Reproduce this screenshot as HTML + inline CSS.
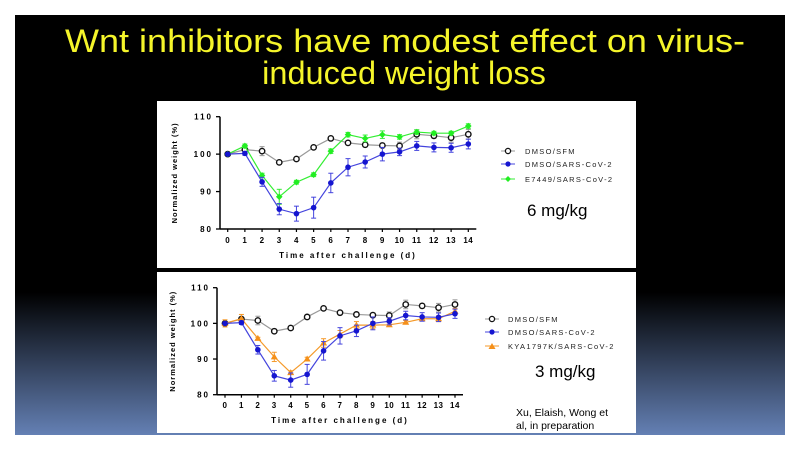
<!DOCTYPE html>
<html><head><meta charset="utf-8"><style>
html,body{margin:0;padding:0;background:#fff;}
svg{display:block;font-family:"Liberation Sans",Arial,sans-serif;}
</style></head><body>
<svg width="800" height="450" viewBox="0 0 800 450">
<defs><linearGradient id="bg" x1="0" y1="0" x2="0" y2="1">
<stop offset="0" stop-color="#000"/><stop offset="0.66" stop-color="#000"/><stop offset="1" stop-color="#6480b4"/></linearGradient></defs>
<rect x="0" y="0" width="800" height="450" fill="#fff"/>
<rect x="15" y="15" width="770" height="420" fill="url(#bg)"/>
<text x="405" y="52" font-size="32.5" fill="#f5f52a" text-anchor="middle" textLength="680" lengthAdjust="spacingAndGlyphs">Wnt inhibitors have modest effect on virus-</text>
<text x="404" y="84" font-size="32.5" fill="#f5f52a" text-anchor="middle">induced weight loss</text>
<rect x="157" y="101" width="479" height="167" fill="#fff"/>
<rect x="157" y="272" width="479" height="161" fill="#fff"/>
<g id="top"></g><g id="bot"></g>
<g font-size="7.5" fill="#222" letter-spacing="1.3">
<line x1="501" y1="151" x2="515" y2="151" stroke="#999"/><circle cx="508" cy="151" r="2.6" fill="#fff" stroke="#111" stroke-width="1.3"/>
<text x="525" y="154">DMSO/SFM</text>
<line x1="501" y1="164" x2="515" y2="164" stroke="#4444dd"/><circle cx="508" cy="164" r="2.6" fill="#1515d0"/>
<text x="525" y="167">DMSO/SARS-CoV-2</text>
<line x1="501" y1="179" x2="515" y2="179" stroke="#33ee33"/><path d="M508 176 L511 179 L508 182 L505 179Z" fill="#22ee22"/>
<text x="525" y="182">E7449/SARS-CoV-2</text>
<line x1="485" y1="319" x2="499" y2="319" stroke="#999"/><circle cx="492" cy="319" r="2.6" fill="#fff" stroke="#111" stroke-width="1.3"/>
<text x="508" y="322">DMSO/SFM</text>
<line x1="485" y1="332" x2="499" y2="332" stroke="#4444dd"/><circle cx="492" cy="332" r="2.6" fill="#1515d0"/>
<text x="508" y="335">DMSO/SARS-CoV-2</text>
<line x1="485" y1="346" x2="499" y2="346" stroke="#f59a2a"/><path d="M492 343 L495.5 349 L488.5 349Z" fill="#f5901a"/>
<text x="508" y="349">KYA1797K/SARS-CoV-2</text>
</g>
<text x="527" y="216" font-size="17" fill="#000">6 mg/kg</text>
<text x="535" y="377" font-size="17" fill="#000">3 mg/kg</text>
<text x="516" y="416" font-size="10.5" fill="#000">Xu, Elaish, Wong et</text>
<text x="516" y="429" font-size="10.5" fill="#000">al, in preparation</text>
</svg>
<script>
const days=[0,1,2,3,4,5,6,7,8,9,10,11,12,13,14];
const yTicks=[80,90,100,110];
const sfm=[100,101.2,100.8,97.8,98.7,101.8,104.2,103,102.5,102.3,102.2,105.3,104.9,104.4,105.3];
const sfmErr=[0,0.5,1.2,0.4,0.4,0.4,0.4,0.4,0.5,0.6,1,1.2,0.6,1.2,1.3];
const blue=[100,100.2,92.6,85.3,84.1,85.7,92.3,96.5,97.9,100,100.6,102.2,101.8,101.7,102.7];
const blueErr=[0,0.5,1.2,1.5,2,2.8,2.6,2.3,1.6,1.8,1,1.2,1.2,1.2,1.3];
const green=[100,102.2,94.3,88.6,92.5,94.5,100.8,105.2,104.2,105.2,104.6,105.9,105.6,105.6,107.5];
const greenErr=[0,0.5,0.6,2,0.5,0.5,0.6,0.6,0.9,1,0.6,0.6,0.5,0.5,0.6];
const orange=[100,101.3,95.8,90.6,86.2,90,94.5,97,99.5,99.5,99.6,100.3,101.3,101.3,103.4];
const orangeErr=[1,1.2,0.3,1.3,0.5,0.5,1.2,1,1,1,0.5,0.5,0.5,0.8,0.8];
const NS='http://www.w3.org/2000/svg';
function mk(p,t,a){const e=document.createElementNS(NS,t);for(const k in a)e.setAttribute(k,a[k]);p.appendChild(e);return e;}
function chart(g,c,series,prefix){
  const X=d=>c.x0+(c.x1-c.x0)*d/14, Y=v=>c.yb+(c.yt-c.yb)*(v-80)/30;
  mk(g,'line',{x1:c.ax,y1:Y(110),x2:c.ax,y2:Y(80),stroke:'#000','stroke-width':1.5});
  mk(g,'line',{x1:c.ax,y1:Y(80),x2:X(14)+8,y2:Y(80),stroke:'#000','stroke-width':1.5});
  yTicks.forEach(v=>{mk(g,'line',{x1:c.ax-4,y1:Y(v),x2:c.ax,y2:Y(v),stroke:'#000','stroke-width':1.3});
    const t=mk(g,'text',{x:c.ax-7,y:Y(v)+3,'font-size':8,'font-weight':'bold','text-anchor':'end','letter-spacing':2});t.textContent=v;
    
    });
  days.forEach(d=>{mk(g,'line',{x1:X(d),y1:Y(80),x2:X(d),y2:Y(80)+3,stroke:'#000','stroke-width':1.2});
    const t=mk(g,'text',{x:X(d),y:c.ty,'font-size':8,'font-weight':'bold','text-anchor':'middle','letter-spacing':0.5});t.textContent=d;
    
    });
  const xt=mk(g,'text',{x:c.xtx,y:c.xty,'font-size':8,'font-weight':'bold','text-anchor':'middle','letter-spacing':2});xt.textContent='Time after challenge (d)';
  
  
  const cy=(Y(80)+Y(110))/2;
  const yt=mk(g,'text',{x:c.ytx,y:cy,'font-size':7.5,'font-weight':'bold','text-anchor':'middle','letter-spacing':1,transform:`rotate(-90 ${c.ytx} ${cy})`});yt.textContent='Normalized weight (%)';
  
  
  series.forEach(s=>{
    const sg=mk(g,'g',{});
    
    
    mk(sg,'polyline',{points:s.v.map((v,i)=>X(days[i])+','+Y(v)).join(' '),fill:'none',stroke:s.line,'stroke-width':1.2});
    s.v.forEach((v,i)=>{const x=X(days[i]),e=s.e[i];
      if(e>0){mk(sg,'line',{x1:x,y1:Y(v-e),x2:x,y2:Y(v+e),stroke:s.line,'stroke-width':1});
        mk(sg,'line',{x1:x-2.5,y1:Y(v-e),x2:x+2.5,y2:Y(v-e),stroke:s.line,'stroke-width':1});
        mk(sg,'line',{x1:x-2.5,y1:Y(v+e),x2:x+2.5,y2:Y(v+e),stroke:s.line,'stroke-width':1});}
      let m;
      if(s.shape==='o')m=mk(sg,'circle',{cx:x,cy:Y(v),r:2.7,fill:'#fff',stroke:'#111','stroke-width':1.4});
      else if(s.shape==='dot')m=mk(sg,'circle',{cx:x,cy:Y(v),r:2.8,fill:s.fill});
      else if(s.shape==='dia')m=mk(sg,'path',{d:`M${x} ${Y(v)-3.3}L${x+3.3} ${Y(v)}L${x} ${Y(v)+3.3}L${x-3.3} ${Y(v)}Z`,fill:s.fill});
      else m=mk(sg,'path',{d:`M${x} ${Y(v)-3.5}L${x+3.5} ${Y(v)+2.5}L${x-3.5} ${Y(v)+2.5}Z`,fill:s.fill});
      
      
    });
  });
}
chart(document.getElementById('top'),{ax:220,x0:227.7,x1:468.3,yt:116.7,yb:229,ty:243,xtx:348,xty:258,ytx:177},[
 {name:'dmso-sfm',v:sfm,e:sfmErr,line:'#999',shape:'o'},
 {name:'e7449',v:green,e:greenErr,line:'#33ee33',fill:'#22ee22',shape:'dia'},
 {name:'dmso-sars',v:blue,e:blueErr,line:'#4444dd',fill:'#1515d0',shape:'dot'}],'top');
chart(document.getElementById('bot'),{ax:217,x0:225,x1:455,yt:287.7,yb:394.7,ty:408,xtx:340,xty:423,ytx:175},[
 {name:'dmso-sfm',v:sfm,e:sfmErr,line:'#999',shape:'o'},
 {name:'kya1797k',v:orange,e:orangeErr,line:'#f59a2a',fill:'#f5901a',shape:'tri'},
 {name:'dmso-sars',v:blue,e:blueErr,line:'#4444dd',fill:'#1515d0',shape:'dot'}],'bottom');
</script>
</body></html>
